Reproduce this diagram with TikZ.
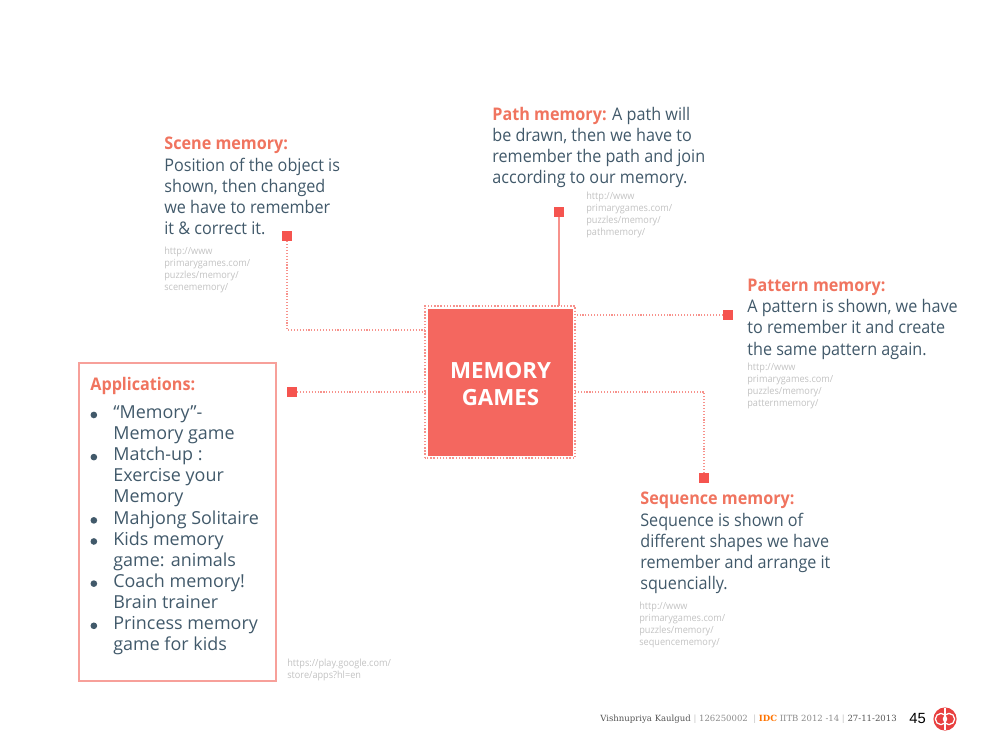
\documentclass[tikz,border=0pt]{standalone}
\usepackage{fontspec}
\setmainfont[FakeStretch=0.93]{Open Sans}
\newfontfamily\wideopen{Open Sans}
\newfontfamily\slabfont{DejaVu Serif}
\newfontfamily\numfont{Liberation Sans}
\definecolor{boxred}{HTML}{F4675F}
\definecolor{headred}{HTML}{F0745F}
\definecolor{bodyblue}{HTML}{41596A}
\definecolor{urlgrey}{HTML}{C2C2C2}
\definecolor{linered}{HTML}{F7928C}
\definecolor{sqred}{HTML}{F5544F}
\definecolor{logored}{HTML}{E8403F}
\definecolor{framered}{HTML}{F7A09A}
\definecolor{footgrey}{HTML}{8A8A8A}
\definecolor{footdark}{HTML}{555555}
\newcommand{\hd}[1]{{\color{headred}\fontsize{9.9}{12}\selectfont\bfseries #1}}
\newcommand{\bul}{\llap{\textcolor{bodyblue}{\tikz[baseline=-2.1pt]\fill (0,0) circle (1.9pt);}\hspace{9.2pt}}}
\tikzset{
  x=0.02cm,y=-0.02cm,
  body/.style={anchor=north west,inner sep=0pt,align=left,text=bodyblue,font=\fontsize{9.9}{12}\selectfont},
  listtext/.style={body,font=\wideopen\fontsize{10.2}{12}\selectfont},
  url/.style={anchor=north west,inner sep=0pt,align=left,text=urlgrey,font=\fontsize{5.6}{6.85}\selectfont},
  sq/.style={fill=sqred,draw=none,minimum size=5.6pt,inner sep=0pt},
  dotline/.style={draw=linered,line width=0.65pt,densely dotted},
  solidline/.style={draw=linered,line width=0.7pt}
}
\begin{document}
\begin{tikzpicture}
\useasboundingbox (0,0) rectangle (1000,750);
% centre box
\node[draw=none,fill=none,minimum width=150*0.5669pt,minimum height=152*0.5669pt,inner sep=0pt] (outer) at (500,382) {};
\draw[draw=linered,line width=0.8pt,densely dotted] (outer.south west) rectangle (outer.north east);
\node[fill=boxred,minimum width=145*0.5669pt,minimum height=147*0.5669pt,inner sep=0pt,text=white,align=center,font=\wideopen\fontsize{12.7}{15.4}\selectfont\bfseries] (cbox) at (500.5,382.5) {\rule{0pt}{11pt}MEMORY\\GAMES};
% small squares
\node[sq] (sqscene) at (287,236) {};
\node[sq] (sqpath) at (559,212) {};
\node[sq] (sqpattern) at (728,315) {};
\node[sq] (sqseq) at (704,478) {};
\node[sq] (sqapp) at (292,392) {};
\coordinate (cscene) at (425,330);
\coordinate (cpath) at (559,306);
\coordinate (cpattern) at (575,315);
\coordinate (cseq) at (575,392);
\coordinate (capp) at (425,392);
\draw[dotline] (sqscene) |- (cscene);
\draw[solidline] (sqpath) -- (cpath);
\draw[dotline] (sqpattern) -- (cpattern);
\draw[dotline] (sqseq) |- (cseq);
\draw[dotline] (sqapp) -- (capp);
% Scene
\node[body] (scene) at (164,137) {\hd{Scene memory:}\\Position of the object is\\shown, then changed\\we have to remember\\it \& correct it.};
\node[url] (sceneurl) at (164,247) {http://www\\primarygames.com/\\puzzles/memory/\\scenememory/};
% Path
\node[body] (path) at (492,107) {\hd{Path memory:} A path will\\be drawn, then we have to\\remember the path and join\\according to our memory.};
\node[url] (pathurl) at (586,192) {http://www\\primarygames.com/\\puzzles/memory/\\pathmemory/};
% Pattern
\node[body] (pattern) at (747,279) {\hd{Pattern memory:}\\A pattern is shown, we have\\to remember it and create\\the same pattern again.};
\node[url] (patternurl) at (747,363) {http://www\\primarygames.com/\\puzzles/memory/\\patternmemory/};
% Sequence
\node[body] (seq) at (640,492) {\hd{Sequence memory:}\\Sequence is shown of\\different shapes we have\\remember and arrange it\\squencially.};
\node[url] (sequrl) at (639,602) {http://www\\primarygames.com/\\puzzles/memory/\\sequencememory/};
% Applications
\node[draw=framered,line width=0.9pt,minimum width=198*0.5669pt,minimum height=319*0.5669pt,inner sep=0pt] (appbox) at (177.5,522) {};
\node[body] (apphead) at (90,377) {\hd{Applications:}};
\node[listtext] (applist) at (113,405.5) {\bul “Memory”-\\Memory game\\\bul Match-up :\\Exercise your\\Memory\\\bul Mahjong Solitaire\\\bul Kids memory\\game: animals\\\bul Coach memory!\\Brain trainer\\\bul Princess memory\\game for kids};
\node[url] (appurl) at (287,659) {https://play.google.com/\\store/apps?hl=en};
% Footer
\node[anchor=west,inner sep=0pt,font=\slabfont\fontsize{4.85}{6}\selectfont,text=footgrey] (foot) at (600,719) {{\color{footdark}Vishnupriya Kaulgud} {\color{urlgrey}|} 126250002 \ {\color{urlgrey}|} {\color{orange!90!red}\bfseries IDC} IITB 2012 -14 {\color{urlgrey}|} {\color{footdark}27-11-2013}};
\node[anchor=west,inner sep=0pt,font=\numfont\fontsize{8.4}{10}\selectfont,text=black] (pagenum) at (909,718) {45};
\node[circle,fill=logored,minimum size=13.2pt,inner sep=0pt] (logo) at (945,719) {};
\draw[white,line width=0.7pt] (945,708) -- (945,730);
\draw[white,line width=0.7pt] (941,719) circle (3.2pt);
\draw[white,line width=0.7pt] (949,719) circle (3.2pt);
\end{tikzpicture}
\end{document}
